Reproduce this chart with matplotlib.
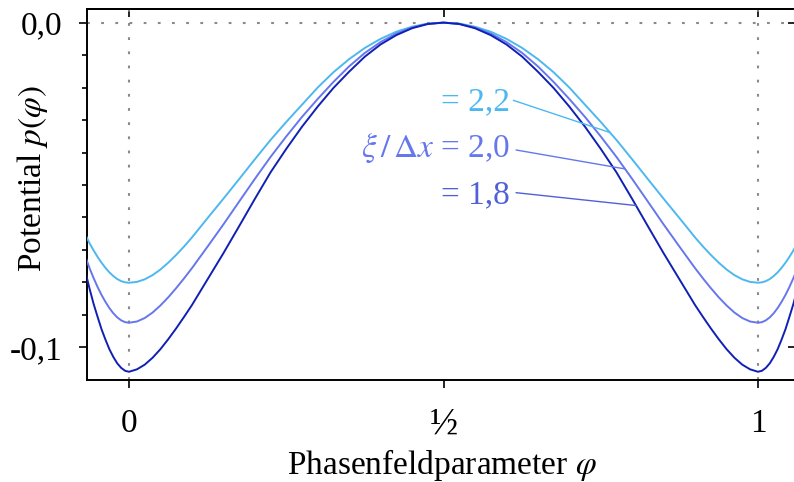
import numpy as np
import matplotlib
matplotlib.use("Agg")
import matplotlib.pyplot as plt
from matplotlib.ticker import MultipleLocator

plt.rcParams['font.family'] = ['Liberation Serif', 'DejaVu Serif']
plt.rcParams['mathtext.fontset'] = 'stix'
plt.rcParams['lines.scale_dashes'] = False

# ---- data ----
phi = [-0.07, -0.0625, -0.05625, -0.05, -0.04375, -0.0375, -0.03125, -0.025, -0.01875,
       -0.0125, -0.00625, 0.0, 0.0125, 0.025, 0.0375, 0.05, 0.0625, 0.075, 0.0875, 0.1,
       0.125, 0.15, 0.175, 0.2, 0.225, 0.25, 0.275, 0.3, 0.325, 0.35, 0.375, 0.4, 0.425,
       0.45, 0.475, 0.5,
       0.525, 0.55, 0.575, 0.6, 0.625, 0.65, 0.675, 0.7, 0.725, 0.75, 0.775, 0.8, 0.825,
       0.85, 0.875, 0.9, 0.9125, 0.925, 0.9375, 0.95, 0.9625, 0.975, 0.9875, 1.0,
       1.00625, 1.0125, 1.01875, 1.025, 1.03125, 1.0375, 1.04375, 1.05, 1.05625, 1.0625,
       1.07]

p_22 = [-0.06506, -0.06802, -0.07015, -0.07212, -0.07391, -0.07551, -0.07689, -0.07803,
        -0.07896, -0.07961, -0.07998, -0.08010, -0.07985, -0.07905, -0.07776, -0.07603,
        -0.07391, -0.07153, -0.06895, -0.06617, -0.06017, -0.05425, -0.04821, -0.04211,
        -0.03614, -0.03059, -0.02529, -0.01999, -0.01528, -0.01124, -0.00779, -0.00499,
        -0.00280, -0.00126, -0.00031, 0.0,
        -0.00031, -0.00126, -0.00280, -0.00499, -0.00779, -0.01124, -0.01528, -0.01999,
        -0.02529, -0.03059, -0.03614, -0.04211, -0.04821, -0.05425, -0.06017, -0.06617,
        -0.06895, -0.07153, -0.07391, -0.07603, -0.07776, -0.07905, -0.07985, -0.08010,
        -0.07998, -0.07961, -0.07896, -0.07803, -0.07689, -0.07551, -0.07391, -0.07212,
        -0.07015, -0.06802, -0.06506]

p_20 = [-0.07175, -0.07572, -0.07868, -0.08139, -0.08383, -0.08598, -0.08789, -0.08949,
        -0.09076, -0.09168, -0.09224, -0.09242, -0.09205, -0.09097, -0.08928, -0.08709,
        -0.08457, -0.08176, -0.07877, -0.07563, -0.06895, -0.06217, -0.05514, -0.04815,
        -0.04137, -0.03506, -0.02905, -0.02351, -0.01827, -0.01346, -0.00933, -0.00598,
        -0.00336, -0.00151, -0.00037, 0.0,
        -0.00037, -0.00151, -0.00336, -0.00598, -0.00933, -0.01346, -0.01827, -0.02351,
        -0.02905, -0.03506, -0.04137, -0.04815, -0.05514, -0.06217, -0.06895, -0.07563,
        -0.07877, -0.08176, -0.08457, -0.08709, -0.08928, -0.09097, -0.09205, -0.09242,
        -0.09224, -0.09168, -0.09076, -0.08949, -0.08789, -0.08598, -0.08383, -0.08139,
        -0.07868, -0.07572, -0.07175]

p_18 = [-0.07619, -0.08210, -0.08663, -0.09057, -0.09438, -0.09760, -0.10055, -0.10293,
        -0.10491, -0.10631, -0.10721, -0.10752, -0.10678, -0.10533, -0.10320, -0.10055,
        -0.09747, -0.09415, -0.09063, -0.08700, -0.07902, -0.07104, -0.06272, -0.05431,
        -0.04612, -0.03888, -0.03207, -0.02585, -0.02012, -0.01510, -0.01047, -0.00672,
        -0.00385, -0.00173, -0.00043, 0.0,
        -0.00043, -0.00173, -0.00385, -0.00672, -0.01047, -0.01510, -0.02012, -0.02585,
        -0.03207, -0.03888, -0.04612, -0.05431, -0.06272, -0.07104, -0.07902, -0.08700,
        -0.09063, -0.09415, -0.09747, -0.10055, -0.10320, -0.10533, -0.10678, -0.10752,
        -0.10721, -0.10631, -0.10491, -0.10293, -0.10055, -0.09760, -0.09438, -0.09057,
        -0.08663, -0.08210, -0.07619]

xtick_vals = [0, 0.5, 1]
xtick_labels = ['0', '½', '1']
ytick_vals = [-0.1, 0.0]
ytick_labels = ['-0,1', '0,0']
ref_x = [0, 1]
ref_y = [0]

c_22 = '#4db8f0'
c_20 = '#6677ee'
c_18 = '#1020b4'
c_18txt = '#5060d6'
grey = '#8a8a8a'
FS = 24

W, H = 794, 482
fig = plt.figure(figsize=(W / 100, H / 100), dpi=100)
ax = fig.add_axes([87.3 / W, (H - 379.5) / H, (796 - 87.3) / W, (379.5 - 9.3) / H])

for xv in ref_x:
    ax.axvline(xv, color=grey, lw=1.5, dashes=(2.0, 8.2), zorder=1)
for yv in ref_y:
    ax.axhline(yv, color=grey, lw=1.5, dashes=(2.0, 8.2), zorder=1)

ax.plot(phi, p_22, color=c_22, lw=1.4, zorder=3)
ax.plot(phi, p_20, color=c_20, lw=1.4, zorder=3)
ax.plot(phi, p_18, color=c_18, lw=1.4, zorder=3)

ax.set_xlim(-0.0663, 1.0604)
ax.set_ylim(-0.1099, 0.0041)

ax.set_xticks(xtick_vals)
ax.set_xticklabels(xtick_labels, fontsize=FS)
ax.get_xticklabels()[1].set_fontsize(FS + 3)
ax.set_yticks(ytick_vals)
ax.set_yticklabels(ytick_labels, fontsize=FS)
ax.yaxis.set_minor_locator(MultipleLocator(0.01))
ax.tick_params(axis='x', direction='out', length=6, width=1.2, pad=15)
ax.tick_params(axis='y', which='major', direction='out', length=6, width=1.2, pad=12)
ax.tick_params(axis='y', which='minor', direction='out', length=3.6, width=1.2)
for s in ax.spines.values():
    s.set_linewidth(1.4)

sx = ax.secondary_xaxis('top')
sx.set_xticks(xtick_vals)
sx.tick_params(direction='in', length=6, width=1.2, labeltop=False)
sx.spines['top'].set_linewidth(1.4)
sy = ax.secondary_yaxis('right')
sy.set_yticks(ytick_vals)
sy.tick_params(direction='in', length=6, width=1.2, labelright=False)

ax.set_xlabel(r'Phasenfeldparameter $\varphi$', fontsize=FS, labelpad=2.5)
ax.set_ylabel(r'Potential $p(\varphi)$', fontsize=FS)
ax.yaxis.set_label_coords(-0.0526, 0.543)

# labels and leader lines
labels = ['= 2,2', r'$\xi\,/\,\Delta x$ = 2,0', '= 1,8']
label_cols = [c_22, c_20, c_18txt]
label_pos = [(0.6057, -0.02689), (0.6057, -0.04137), (0.6057, -0.05555)]
line_start = [(0.6111, -0.02394), (0.6153, -0.03922), (0.6153, -0.05237)]
line_end_x = [0.7647, 0.7886, 0.8060]
curves = [p_22, p_20, p_18]
for txt, col, (tx, ty), (sx0, sy0), ex, cv in zip(labels, label_cols, label_pos,
                                                  line_start, line_end_x, curves):
    ax.text(tx, ty, txt, color=col, fontsize=FS, ha='right', va='baseline', zorder=4)
    ey = np.interp(ex, phi, cv)
    ax.annotate('', xy=(ex, ey), xytext=(sx0, sy0),
                arrowprops=dict(arrowstyle='-', color=col, lw=1.0,
                                shrinkA=0, shrinkB=0), zorder=4)

fig.savefig('out.png', dpi=100)
